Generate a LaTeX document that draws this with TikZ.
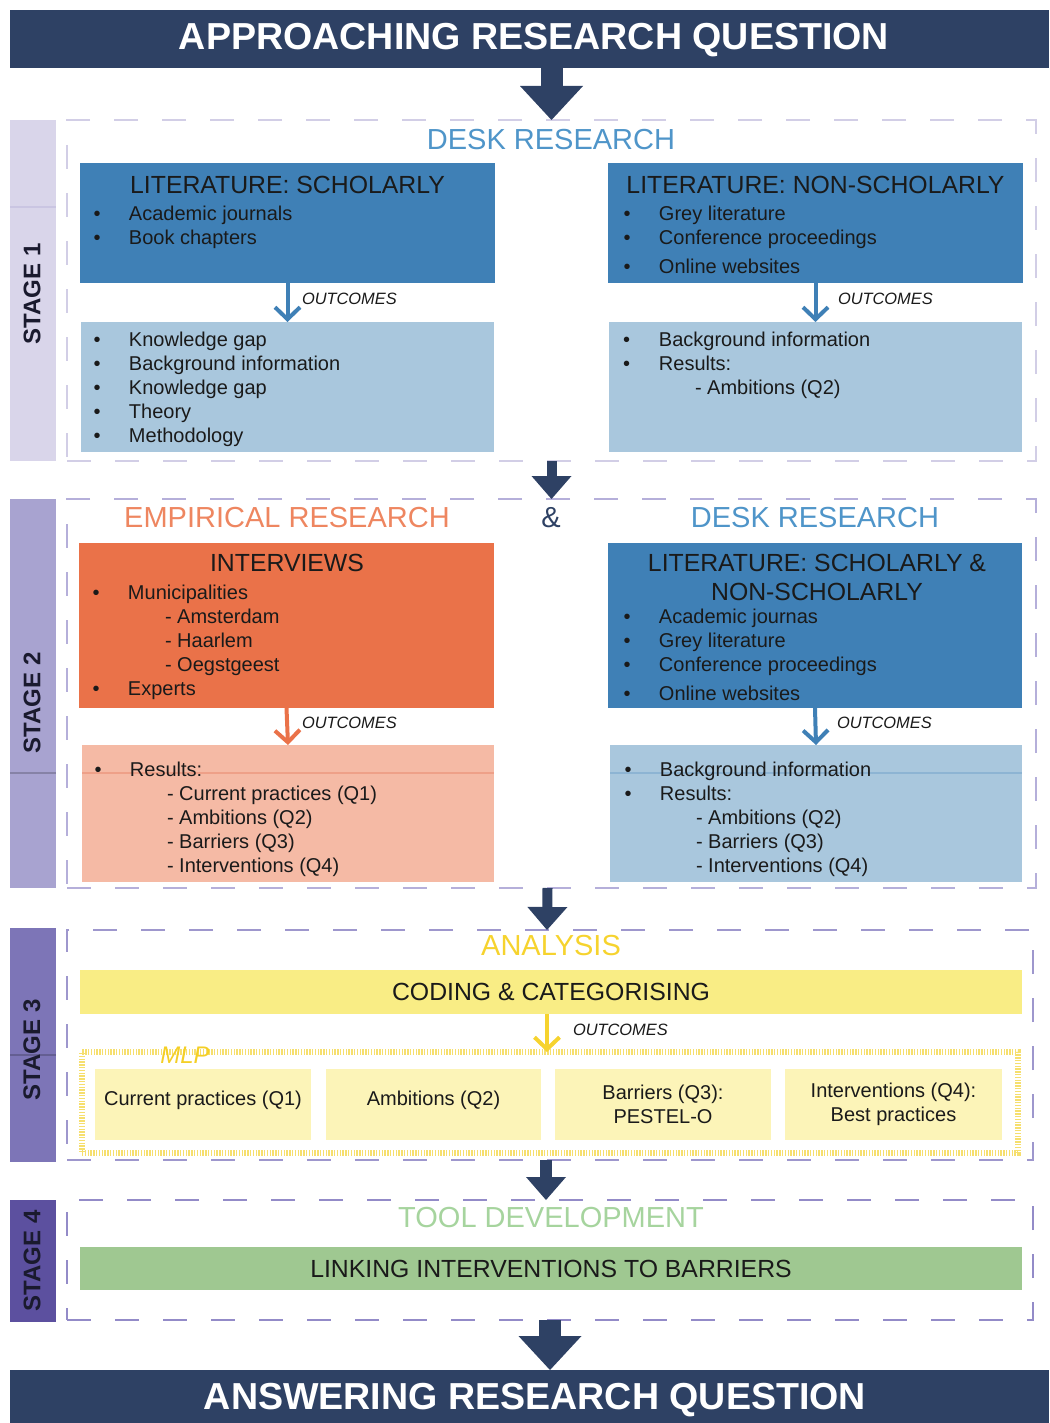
\documentclass[tikz,border=0pt]{standalone}
\usepackage{fontspec}
\setmainfont{Liberation Sans}
\usetikzlibrary{arrows.meta,fit,calc}

% palette
\definecolor{navy}{HTML}{2E4164}
\definecolor{ink}{HTML}{1A1A1A}
\definecolor{blueA}{HTML}{3F80B6}
\definecolor{blueL}{HTML}{A9C7DD}
\definecolor{blueT}{HTML}{4F95C9}
\definecolor{blueLine}{HTML}{8DB4D3}
\definecolor{orA}{HTML}{EA7249}
\definecolor{orL}{HTML}{F5BAA5}
\definecolor{orT}{HTML}{EE8660}
\definecolor{orLine}{HTML}{EEA088}
\definecolor{yelT}{HTML}{F6D32E}
\definecolor{yelM}{HTML}{F4CF26}
\definecolor{yelA}{HTML}{F9ED85}
\definecolor{yelL}{HTML}{FCF4B8}
\definecolor{yelD}{HTML}{F6DF6E}
\definecolor{grT}{HTML}{A6D49E}
\definecolor{grA}{HTML}{9FC891}
\definecolor{stA}{HTML}{D9D5EA}
\definecolor{stB}{HTML}{A8A3D0}
\definecolor{stC}{HTML}{7D75B7}
\definecolor{stD}{HTML}{5C509F}
\definecolor{dsA}{HTML}{D2CEE6}
\definecolor{dsB}{HTML}{B5AFDA}
\definecolor{dsC}{HTML}{9E97CD}
\definecolor{dsD}{HTML}{938BC8}
\definecolor{stInk}{HTML}{1A1A2E}

% bullet with a fixed indent before the item text
\newcommand{\bitem}[1]{\makebox[17.75pt][l]{\textbullet}#1}

\begin{document}
\begin{tikzpicture}[x=0.5pt,y=-0.5pt,
  every node/.style={inner sep=0pt,outer sep=0pt},
  block/.style={inner sep=0pt,draw=none},
  frame/.style={draw=#1,line width=1pt,dash pattern=on 12pt off 12pt,inner sep=0pt},
  sidebar/.style={fill=#1,inner sep=0pt,draw=none},
  stagelbl/.style={rotate=90,text=stInk,font=\bfseries\fontsize{12}{14}\selectfont},
  hdrtxt/.style={text=white,font=\bfseries\fontsize{18.8}{22}\selectfont},
  sectxt/.style={font=\fontsize{14.5}{17}\selectfont},
  ttl/.style={text=ink,align=center,font=\fontsize{12.4}{14.5}\selectfont},
  txt/.style={anchor=mid west,yshift=-1pt,text=ink,font=\fontsize{10}{12}\selectfont},
  boxtxt/.style={text=ink,align=center,font=\fontsize{10}{12}\selectfont},
  outc/.style={anchor=mid west,text=ink,font=\fontsize{8.2}{10}\selectfont\itshape},
  outarrow/.style={draw=#1,line width=2pt,-{Straight Barb[length=6pt,width=12.5pt]}},
  bigarrow/.style={draw=navy,line width=11pt,-{Triangle[length=17pt,width=31.5pt,line width=0pt]}},
  smallarrow/.style={draw=navy,line width=#1,-{Triangle[length=11.5pt,width=20pt,line width=0pt]}},
]
\useasboundingbox (0,0) rectangle (1049,1423);

% ---------- top banner ----------
\node[block,fill=navy,fit={(10,10)(1049,68)}] (top) {};
\node[hdrtxt] (topT) at (534,40) {APPROACHING RESEARCH QUESTION};

% ---------- stage 1 ----------
\node[sidebar=stA,fit={(10,120)(56,461)}] (sb1) {};
\draw[draw=dsA!80!stB,line width=0.6pt] (sb1.west |- 0,207) -- (sb1.east |- 0,207);
\node[stagelbl] (sb1T) at (32,294) {STAGE 1};
\node[frame=dsA,fit={(67,120)(1036,461)}] (s1) {};
\node[sectxt,text=blueT] (s1T) at (551,140) {DESK RESEARCH};

\node[block,fill=blueA,fit={(80,163)(495,283)}] (litS) {};
\node[ttl] (litST) at (287.5,185) {LITERATURE: SCHOLARLY};
\node[txt] (litS1) at (93.5,213) {\bitem{Academic journals}};
\node[txt] (litS2) at (93.5,237) {\bitem{Book chapters}};

\node[block,fill=blueL,fit={(81,322)(494,452)}] (outS) {};
\node[txt] (outS1) at (93.5,339) {\bitem{Knowledge gap}};
\node[txt] (outS2) at (93.5,363) {\bitem{Background information}};
\node[txt] (outS3) at (93.5,387) {\bitem{Knowledge gap}};
\node[txt] (outS4) at (93.5,411) {\bitem{Theory}};
\node[txt] (outS5) at (93.5,435) {\bitem{Methodology}};
\draw[outarrow=blueA] (litS.south) -- (outS.north);
\node[outc] (outST) at (302,299) {OUTCOMES};

\node[block,fill=blueA,fit={(608,163)(1023,283)}] (litN) {};
\node[ttl] (litNT) at (815.5,185) {LITERATURE: NON-SCHOLARLY};
\node[txt] (litN1) at (623.5,213) {\bitem{Grey literature}};
\node[txt] (litN2) at (623.5,237) {\bitem{Conference proceedings}};
\node[txt] (litN3) at (623.5,266) {\bitem{Online websites}};

\node[block,fill=blueL,fit={(609,322)(1022,452)}] (outN) {};
\node[txt] (outN1) at (623,339) {\makebox[18pt][l]{\textbullet}Background information};
\node[txt] (outN2) at (623,363) {\makebox[18pt][l]{\textbullet}Results:};
\node[txt] (outN3) at (695,387) {- Ambitions (Q2)};
\draw[outarrow=blueA] (litN.south) -- (outN.north);
\node[outc] (outNT) at (838,299) {OUTCOMES};

% ---------- stage 2 ----------
\node[sidebar=stB,fit={(10,499)(56,888)}] (sb2) {};
\draw[draw=stB!80!black,line width=0.6pt] (sb2.west |- 0,773) -- (sb2.east |- 0,773);
\node[stagelbl] (sb2T) at (32,703) {STAGE 2};
\node[frame=dsB,fit={(67,499)(1036,888)}] (s2) {};
\node[sectxt,text=orT] (s2L) at (287,518) {EMPIRICAL RESEARCH};
\node[sectxt,text=navy] (s2A) at (551,518) {\&};
\node[sectxt,text=blueT] (s2R) at (815,518) {DESK RESEARCH};

\node[block,fill=orA,fit={(79,543)(494,708)}] (intv) {};
\node[ttl] (intvT) at (287,563) {INTERVIEWS};
\node[txt] (intv1) at (92.5,592) {\bitem{Municipalities}};
\node[txt] (intv2) at (165,616) {- Amsterdam};
\node[txt] (intv3) at (165,640) {- Haarlem};
\node[txt] (intv4) at (165,664) {- Oegstgeest};
\node[txt] (intv5) at (92.5,688) {\bitem{Experts}};

\node[block,fill=orL,fit={(82,745)(494,882)}] (outI) {};
\draw[draw=orLine,line width=0.6pt] (outI.west |- 0,773) -- (outI.east |- 0,773);
\node[txt] (outI1) at (94.5,769) {\bitem{Results:}};
\node[txt] (outI2) at (167,793) {- Current practices (Q1)};
\node[txt] (outI3) at (167,817) {- Ambitions (Q2)};
\node[txt] (outI4) at (167,841) {- Barriers (Q3)};
\node[txt] (outI5) at (167,865) {- Interventions (Q4)};
\draw[outarrow=orA] (intv.south) -- (outI.north);
\node[outc] (outIT) at (302,723) {OUTCOMES};

\node[block,fill=blueA,fit={(608,543)(1022,708)}] (litB) {};
\node[ttl,font=\fontsize{12.4}{14.5}\selectfont,align=center] (litBT) at (817,577.5)
  {LITERATURE: SCHOLARLY \&\\[0pt]NON-SCHOLARLY};
\node[txt] (litB1) at (623.5,616) {\bitem{Academic journas}};
\node[txt] (litB2) at (623.5,640) {\bitem{Grey literature}};
\node[txt] (litB3) at (623.5,664) {\bitem{Conference proceedings}};
\node[txt] (litB4) at (623.5,693) {\bitem{Online websites}};

\node[block,fill=blueL,fit={(610,745)(1022,882)}] (outB) {};
\draw[draw=blueLine,line width=0.6pt] (outB.west |- 0,773) -- (outB.east |- 0,773);
\node[txt] (outB1) at (624.5,769) {\bitem{Background information}};
\node[txt] (outB2) at (624.5,793) {\bitem{Results:}};
\node[txt] (outB3) at (696,817) {- Ambitions (Q2)};
\node[txt] (outB4) at (696,841) {- Barriers (Q3)};
\node[txt] (outB5) at (696,865) {- Interventions (Q4)};
\draw[outarrow=blueA] (litB.south) -- (outB.north);
\node[outc] (outBT) at (837,723) {OUTCOMES};

% ---------- stage 3 ----------
\node[sidebar=stC,fit={(10,928)(56,1162)}] (sb3) {};
\draw[draw=stC!80!black,line width=0.6pt] (sb3.west |- 0,1055) -- (sb3.east |- 0,1055);
\node[stagelbl] (sb3T) at (32,1050) {STAGE 3};
\node[frame=dsC,fit={(67,930)(1033,1160)}] (s3) {};
\node[sectxt,text=yelT] (s3T) at (551,946) {ANALYSIS};

\node[block,fill=yelA,fit={(80,970)(1022,1014)}] (code) {};
\node[ttl] (codeT) at (code.center) {CODING \& CATEGORISING};

\node[draw=yelD,line width=3pt,dash pattern=on 0.7pt off 0.7pt,inner sep=0pt,
      fit={(82,1052)(1018,1153)}] (mlp) {};
\node[text=yelM,font=\fontsize{12}{14}\selectfont\itshape] (mlpT) at (185,1055) {MLP};

\node[block,fill=yelL,fit={(95,1069)(311,1140)}] (q1) {};
\node[boxtxt] (q1T) at ($(q1.center)+(0,-4)$) {Current practices (Q1)};
\node[block,fill=yelL,fit={(326,1069)(541,1140)}] (q2) {};
\node[boxtxt] (q2T) at ($(q2.center)+(0,-4)$) {Ambitions (Q2)};
\node[block,fill=yelL,fit={(555,1069)(771,1140)}] (q3) {};
\node[boxtxt] (q3T) at (q3.center) {Barriers (Q3):\\PESTEL-O};
\node[block,fill=yelL,fit={(785,1069)(1002,1140)}] (q4) {};
\node[boxtxt] (q4T) at (q4.center) {Interventions (Q4):\\Best practices};

\draw[outarrow=yelT] ($(code.south)+(-4,0)$) -- ($(mlp.north)+(-3,0)$);
\node[outc] (codeO) at (573,1030) {OUTCOMES};

% ---------- stage 4 ----------
\node[sidebar=stD,fit={(10,1200)(56,1322)}] (sb4) {};
\node[stagelbl] (sb4T) at (32,1261) {STAGE 4};
\node[frame=dsD,fit={(67,1200)(1033,1320)}] (s4) {};
\node[sectxt,text=grT] (s4T) at (551,1218) {TOOL DEVELOPMENT};
\node[block,fill=grA,fit={(80,1247)(1022,1290)}] (link) {};
\node[ttl] (linkT) at (link.center) {LINKING INTERVENTIONS TO BARRIERS};

% ---------- bottom banner ----------
\node[block,fill=navy,fit={(10,1370)(1049,1423)}] (bot) {};
\node[hdrtxt] (botT) at (535,1400) {ANSWERING RESEARCH QUESTION};

% ---------- flow between stages ----------
\draw[bigarrow] (top.south -| s1.north) -- (s1.north);
\draw[smallarrow=5pt] (s1.south) -- (s2.north);
\draw[smallarrow=5pt] ($(s2.south)+(-4,0)$) -- ($(s3.north)+(-3,0)$);
\draw[smallarrow=6pt] ($(s3.south)+(-4,0)$) -- ($(s4.north)+(-4,0)$);
\draw[bigarrow] (s4.south) -- (s4.south |- bot.north);
\end{tikzpicture}
\end{document}
